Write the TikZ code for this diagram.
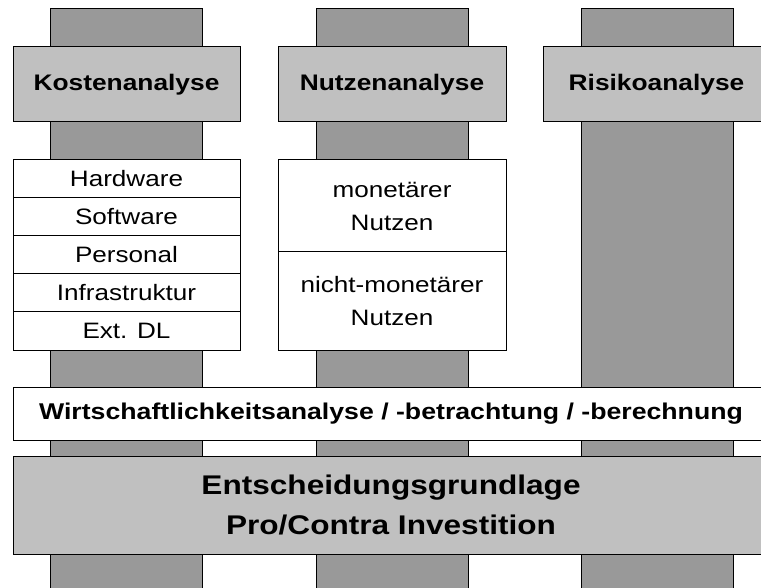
\documentclass[tikz,border=0pt]{standalone}
\usepackage{fontspec}
\setmainfont[FakeStretch=1.17]{Liberation Sans}
\definecolor{pillargray}{gray}{0.6}
\definecolor{headgray}{gray}{0.753}
\tikzset{
  pillar/.style={draw=black, fill=pillargray, rectangle, inner sep=0pt, minimum width=152, minimum height=600},
  headbox/.style={draw=black, fill=headgray, rectangle, inner sep=0pt, minimum width=227, minimum height=75, font=\fontsize{22.5}{28}\selectfont\bfseries},
  rowbox/.style={draw=black, fill=white, rectangle, inner sep=0pt, minimum width=227, minimum height=38, font=\fontsize{22.3}{28}\selectfont},
  nutzbox/.style={draw=black, fill=white, rectangle, inner sep=0pt, minimum width=228, align=center, font=\fontsize{22.3}{33}\selectfont},
  widebox/.style={draw=black, rectangle, inner sep=0pt, minimum width=756, align=center}
}
\begin{document}
\begin{tikzpicture}[x=1pt, y=-1pt, line width=1pt]
\useasboundingbox (0,0) rectangle (761,588);
\clip (0,0) rectangle (761,588);
% pillars
\node[pillar] (p1) at (126.5,309) {};
\node[pillar] (p2) at (392,309) {};
\node[pillar] (p3) at (657,309) {};
% headers
\node[headbox] (h1) at (126.5,84.5) {Kostenanalyse};
\node[headbox, minimum width=228] (h2) at (392,84.5) {Nutzenanalyse};
\node[headbox] (h3) at (656.5,84.5) {Risikoanalyse};
% cost rows
\node[rowbox] (k1) at (126.5,179) {Hardware};
\node[rowbox] (k2) at (126.5,217) {Software};
\node[rowbox] (k3) at (126.5,255) {Personal};
\node[rowbox] (k4) at (126.5,293) {Infrastruktur};
\node[rowbox] (k5) at (126.5,331) {Ext. DL};
% benefit cells
\node[nutzbox, minimum height=92] (n1) at (392,206) {monetärer\\Nutzen};
\node[nutzbox, minimum height=98] (n2) at (392,301) {nicht-monetärer\\Nutzen};
% bottom bars
\node[widebox, fill=white, minimum height=53, font=\fontsize{22.8}{26}\selectfont\bfseries] (w) at (391,413.5) {Wirtschaftlichkeitsanalyse / -betrachtung / -berechnung};
\node[widebox, fill=headgray, minimum height=98, font=\fontsize{27}{40}\selectfont\bfseries] (e) at (391,505) {Entscheidungsgrundlage\\Pro/Contra Investition};
\end{tikzpicture}
\end{document}
